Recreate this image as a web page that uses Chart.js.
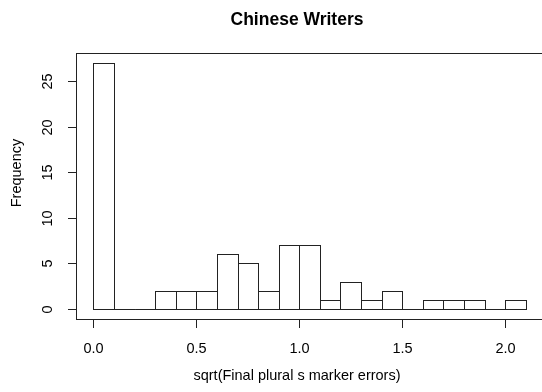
<!DOCTYPE html>
<html>
<head>
<meta charset="utf-8">
<script src="https://cdn.jsdelivr.net/npm/chart.js@4/dist/chart.umd.min.js"></script>
<style>
  html, body { margin: 0; padding: 0; background: #fff; overflow: hidden; }
  canvas { display: block; }
</style>
</head>
<body>
<canvas id="hist" width="544" height="392"></canvas>
<script>
// ---------- data ----------
const TITLE = 'Chinese Writers';
const X_TITLE = 'sqrt(Final plural s marker errors)';
const Y_TITLE = 'Frequency';
const binLeft = [0.0, 0.1, 0.2, 0.3, 0.4, 0.5, 0.6, 0.7, 0.8, 0.9, 1.0,
                 1.1, 1.2, 1.3, 1.4, 1.5, 1.6, 1.7, 1.8, 1.9, 2.0];
const counts  = [27, 0, 0, 2, 2, 2, 6, 5, 2, 7, 7,
                 1, 3, 1, 2, 0, 1, 1, 1, 0, 1];
const binWidth = 0.1;
const xTicks = [0.0, 0.5, 1.0, 1.5, 2.0];
const yTicks = [0, 5, 10, 15, 20, 25];

// ---------- style ----------
const FONT = '"Liberation Sans", Arial, sans-serif';
const INK = '#222';
const TICK_LEN = 8.5;

// R style frame, ticks, rotated y labels, titles and 1px bar outlines
const rFrame = {
    id: 'rFrame',
    afterDatasetsDraw(chart) {
        const { ctx, chartArea: a, scales: { x, y } } = chart;
        ctx.save();
        ctx.strokeStyle = INK;
        ctx.lineWidth = 1;

        // bar outlines (shared edges stay 1px)
        const meta = chart.getDatasetMeta(0);
        meta.data.forEach(el => {
            const p = el.getProps(['x', 'y', 'base', 'width'], true);
            const l = Math.round(p.x - p.width / 2) + 0.5;
            const r = Math.round(p.x + p.width / 2) + 0.5;
            const t = Math.round(p.y) + 0.5;
            const b = Math.round(p.base) + 0.5;
            ctx.strokeRect(l, t, r - l, b - t);
        });

        // box
        ctx.strokeRect(Math.round(a.left) + 0.5, Math.round(a.top) + 0.5,
                       Math.round(a.right - a.left), Math.round(a.bottom - a.top));

        const bottom = Math.round(a.bottom) + 0.5;
        const left = Math.round(a.left) + 0.5;

        // x ticks + labels
        ctx.fillStyle = '#000';
        ctx.font = '14.5px ' + FONT;
        ctx.textAlign = 'center';
        ctx.textBaseline = 'middle';
        xTicks.forEach(v => {
            const px = Math.round(x.getPixelForValue(v)) + 0.5;
            ctx.beginPath();
            ctx.moveTo(px, bottom);
            ctx.lineTo(px, bottom + TICK_LEN);
            ctx.stroke();
            ctx.fillText(v.toFixed(1), px, 349);
        });

        // y ticks + rotated labels
        yTicks.forEach(v => {
            const py = Math.round(y.getPixelForValue(v)) + 0.5;
            ctx.beginPath();
            ctx.moveTo(left, py);
            ctx.lineTo(left - TICK_LEN, py);
            ctx.stroke();
            ctx.save();
            ctx.translate(48, py);
            ctx.rotate(-Math.PI / 2);
            ctx.fillText(String(v), 0, 0);
            ctx.restore();
        });

        // axis titles
        ctx.fillText(X_TITLE, 297, 376);
        ctx.save();
        ctx.translate(17, 173);
        ctx.rotate(-Math.PI / 2);
        ctx.fillText(Y_TITLE, 0, 0);
        ctx.restore();

        // main title
        ctx.font = 'bold 17.5px ' + FONT;
        ctx.fillText(TITLE, 297, 20);
        ctx.restore();
    }
};

new Chart(document.getElementById('hist').getContext('2d'), {
    type: 'bar',
    data: {
        datasets: [{
            data: binLeft.map((b, i) => ({ x: b + binWidth / 2, y: counts[i] })),
            backgroundColor: '#fff',
            borderWidth: 0,
            barPercentage: 1,
            categoryPercentage: 1,
        }],
    },
    options: {
        responsive: false,
        animation: false,
        events: [],
        layout: { padding: { left: 76, top: 53, right: 0.8, bottom: 73.1 } },
        plugins: { legend: { display: false }, title: { display: false }, tooltip: { enabled: false } },
        scales: {
            x: { type: 'linear', min: -0.084, max: 2.184, offset: false, display: false },
            y: { type: 'linear', min: -1.08, max: 28.08, display: false },
        },
    },
    plugins: [rFrame],
});
</script>
</body>
</html>
